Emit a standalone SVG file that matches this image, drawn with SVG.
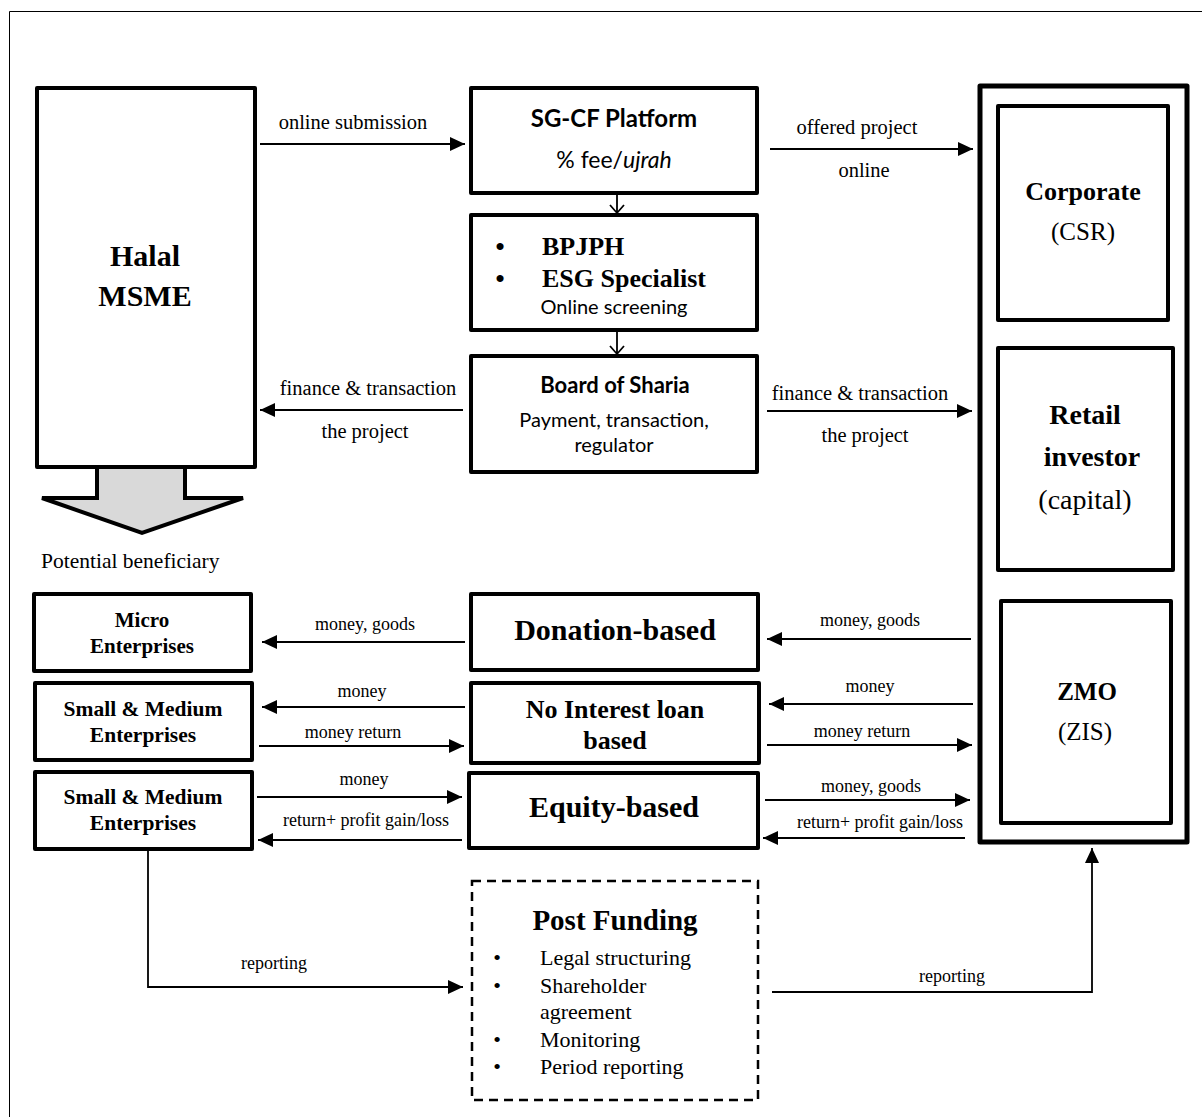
<svg xmlns="http://www.w3.org/2000/svg" width="1202" height="1117" viewBox="0 0 1202 1117">
<defs>
<style>
.box{fill:#fff;stroke:#000;stroke-width:4;stroke-linejoin:round}
.cont{fill:#fff;stroke:#000;stroke-width:5;stroke-linejoin:round}
.dash{fill:#fff;stroke:#000;stroke-width:2.5;stroke-dasharray:9,6}
.ln{fill:none;stroke:#000;stroke-width:1.8}
.ar{marker-end:url(#ah)}
.sb{font-family:"Liberation Serif","Times New Roman",serif;font-weight:bold;fill:#000;text-anchor:middle}
.sr{font-family:"Liberation Serif","Times New Roman",serif;fill:#000;text-anchor:middle}
.lb{font-family:"Liberation Serif","Times New Roman",serif;fill:#000;text-anchor:middle;font-size:18px}
.lt{font-family:"Liberation Serif","Times New Roman",serif;fill:#000;text-anchor:middle;font-size:20.5px}
.cb{font-family:Lato,"Liberation Sans",sans-serif;font-weight:bold;fill:#000;text-anchor:middle}
.cr{font-family:Lato,"Liberation Sans",sans-serif;fill:#000;text-anchor:middle}
</style>
<marker id="ah" markerUnits="userSpaceOnUse" markerWidth="16" markerHeight="14" refX="15" refY="7" orient="auto">
<path d="M0,0 L15,7 L0,14 z" fill="#000"/>
</marker>
</defs>
<path d="M9.5,1117 V11.5 H1202" fill="none" stroke="#000" stroke-width="1"/>

<g id="connectors">
<line class="ln ar" x1="260" y1="144" x2="465" y2="144"/>
<line class="ln ar" x1="770" y1="149" x2="973" y2="149"/>
<line class="ln ar" x1="463" y1="410" x2="260" y2="410"/>
<line class="ln ar" x1="767" y1="411" x2="972" y2="411"/>
<path class="ln" d="M617,193 V212 M610,205 L617,213 L624,205"/>
<path class="ln" d="M617,330 V354 M610,346 L617,354 L624,346"/>
<line class="ln ar" x1="465" y1="642" x2="262" y2="642"/>
<line class="ln ar" x1="465" y1="707" x2="262" y2="707"/>
<line class="ln ar" x1="259" y1="746" x2="464" y2="746"/>
<line class="ln ar" x1="257" y1="797" x2="462" y2="797"/>
<line class="ln ar" x1="462" y1="840" x2="258" y2="840"/>
<line class="ln ar" x1="971" y1="639" x2="767" y2="639"/>
<line class="ln ar" x1="973" y1="704" x2="769" y2="704"/>
<line class="ln ar" x1="767" y1="745" x2="972" y2="745"/>
<line class="ln ar" x1="765" y1="800" x2="970" y2="800"/>
<line class="ln ar" x1="965" y1="838" x2="763" y2="838"/>
<path class="ln ar" d="M148,851 V987 H463"/>
<path class="ln ar" d="M772,992 H1092 V848"/>
<text class="lt" x="353" y="129">online submission</text>
<text class="lt" x="857" y="134">offered project</text>
<text class="lt" x="864" y="177">online</text>
<text class="lt" x="368" y="395">finance &amp; transaction</text>
<text class="lt" x="365" y="438">the project</text>
<text class="lt" x="860" y="400">finance &amp; transaction</text>
<text class="lt" x="865" y="442">the project</text>
<text class="lb" x="365" y="630">money, goods</text>
<text class="lb" x="362" y="697">money</text>
<text class="lb" x="353" y="738">money return</text>
<text class="lb" x="364" y="785">money</text>
<text class="lb" x="366" y="826">return+ profit gain/loss</text>
<text class="lb" x="870" y="626">money, goods</text>
<text class="lb" x="870" y="692">money</text>
<text class="lb" x="862" y="737">money return</text>
<text class="lb" x="871" y="792">money, goods</text>
<text class="lb" x="880" y="828">return+ profit gain/loss</text>
<text class="lb" x="274" y="969">reporting</text>
<text class="lb" x="952" y="982">reporting</text>
</g>

<g id="beneficiary-arrow">
<path d="M97,466 V498 H42 L142,533 L243,498 H185 V466" fill="#d9d9d9" stroke="#000" stroke-width="4" stroke-linejoin="miter"/>
<text class="sr" x="41" y="568" style="text-anchor:start;font-size:21.5px">Potential beneficiary</text>
</g>

<g id="halal-msme">
<rect class="box" x="37" y="88" width="218" height="379"/>
<text class="sb" x="145" y="266" style="font-size:30px">Halal</text>
<text class="sb" x="145" y="306" style="font-size:30px">MSME</text>
</g>

<g id="micro">
<rect class="box" x="34" y="594" width="217" height="77"/>
<text class="sb" x="142" y="627" style="font-size:21px">Micro</text>
<text class="sb" x="142" y="653" style="font-size:21px">Enterprises</text>
</g>
<g id="sme1">
<rect class="box" x="35" y="683" width="217" height="77"/>
<text class="sb" x="143" y="716" style="font-size:21.5px">Small &amp; Medium</text>
<text class="sb" x="143" y="742" style="font-size:21.5px">Enterprises</text>
</g>
<g id="sme2">
<rect class="box" x="35" y="772" width="217" height="77"/>
<text class="sb" x="143" y="804" style="font-size:21.5px">Small &amp; Medium</text>
<text class="sb" x="143" y="830" style="font-size:21.5px">Enterprises</text>
</g>

<g id="sgcf">
<rect class="box" x="471" y="88" width="286" height="105"/>
<text class="cb" x="614" y="127" style="font-size:24px">SG-CF Platform</text>
<text class="cr" x="614" y="168" style="font-size:23px">% fee/<tspan font-style="italic">ujrah</tspan></text>
</g>
<g id="screening">
<rect class="box" x="471" y="215" width="286" height="115"/>
<text class="sb" x="500" y="255" style="font-size:26px">•</text>
<text class="sb" x="542" y="255" style="font-size:26px;text-anchor:start">BPJPH</text>
<text class="sb" x="500" y="287" style="font-size:26px">•</text>
<text class="sb" x="542" y="287" style="font-size:26px;text-anchor:start">ESG Specialist</text>
<text class="cr" x="614" y="314" style="font-size:20px">Online screening</text>
</g>
<g id="sharia">
<rect class="box" x="471" y="356" width="286" height="116"/>
<text class="cb" x="615" y="393" style="font-size:22px">Board of Sharia</text>
<text class="cr" x="614" y="427" style="font-size:20px">Payment, transaction,</text>
<text class="cr" x="614" y="452" style="font-size:20px">regulator</text>
</g>

<g id="donation">
<rect class="box" x="471" y="594" width="287" height="76"/>
<text class="sb" x="615" y="640" style="font-size:30px">Donation-based</text>
</g>
<g id="nointerest">
<rect class="box" x="471" y="683" width="288" height="80"/>
<text class="sb" x="615" y="718" style="font-size:26px">No Interest loan</text>
<text class="sb" x="615" y="749" style="font-size:26px">based</text>
</g>
<g id="equity">
<rect class="box" x="469" y="773" width="289" height="75"/>
<text class="sb" x="614" y="817" style="font-size:30px">Equity-based</text>
</g>

<g id="funders">
<rect class="cont" x="980" y="86" width="207" height="756"/>
</g>
<g id="corporate">
<rect class="box" x="998" y="106" width="170" height="214"/>
<text class="sb" x="1083" y="200" style="font-size:26px">Corporate</text>
<text class="sr" x="1083" y="240" style="font-size:25px">(CSR)</text>
</g>
<g id="retail">
<rect class="box" x="998" y="348" width="175" height="222"/>
<text class="sb" x="1085" y="424" style="font-size:28px">Retail</text>
<text class="sb" x="1092" y="466" style="font-size:28px">investor</text>
<text class="sr" x="1085" y="509" style="font-size:28px">(capital)</text>
</g>
<g id="zmo">
<rect class="box" x="1001" y="601" width="170" height="222"/>
<text class="sb" x="1087" y="700" style="font-size:25px">ZMO</text>
<text class="sr" x="1085" y="740" style="font-size:25px">(ZIS)</text>
</g>

<g id="postfunding">
<rect class="dash" x="472" y="881" width="286" height="219"/>
<text class="sb" x="615" y="930" style="font-size:29px">Post Funding</text>
<g class="sr" style="font-size:22px">
<text x="497" y="965">•</text><text x="540" y="965" style="text-anchor:start">Legal structuring</text>
<text x="497" y="993">•</text><text x="540" y="993" style="text-anchor:start">Shareholder</text>
<text x="540" y="1019" style="text-anchor:start">agreement</text>
<text x="497" y="1047">•</text><text x="540" y="1047" style="text-anchor:start">Monitoring</text>
<text x="497" y="1074">•</text><text x="540" y="1074" style="text-anchor:start">Period reporting</text>
</g>
</g>
</svg>
